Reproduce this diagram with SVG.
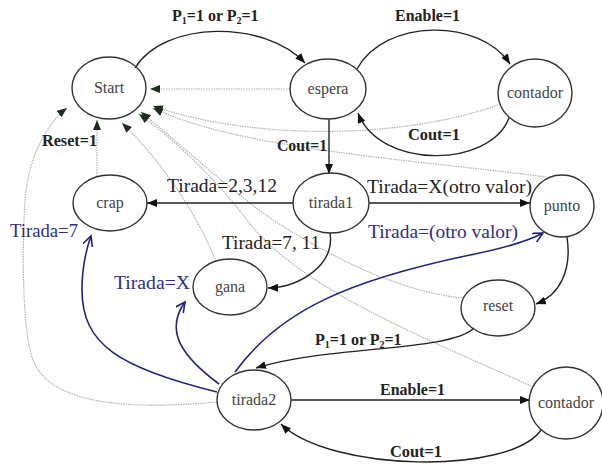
<svg xmlns="http://www.w3.org/2000/svg" width="602" height="465" viewBox="0 0 602 465">
<defs>
<style>
text{font-family:"Liberation Serif","DejaVu Serif",serif}
.n{fill:none;stroke:#333;stroke-width:1.4}
.nt{font-size:16px;fill:#444;text-anchor:middle}
.e{fill:none;stroke:#222;stroke-width:1.4}
.b{fill:none;stroke:#23237a;stroke-width:1.6}
.g{fill:none;stroke:#b0b0b0;stroke-width:1.2;stroke-dasharray:1.5,1}
.lb{font-size:16px;font-weight:bold;fill:#222}
.lr{font-size:18px;fill:#222}
.lbl{font-size:18px;fill:#2e2e85}
</style>
<marker id="a" markerUnits="userSpaceOnUse" markerWidth="11" markerHeight="9" refX="10" refY="4" orient="auto"><path d="M0,0 L10,4 L0,8 z" fill="#111"/></marker>
<marker id="d" markerUnits="userSpaceOnUse" markerWidth="11" markerHeight="9" refX="10" refY="4" orient="auto"><path d="M0,0 L10,4 L0,8 z" fill="#1c2e1c"/></marker>
<marker id="v" markerUnits="userSpaceOnUse" markerWidth="12" markerHeight="12" refX="10" refY="5" orient="auto"><path d="M0,0 L10,5 L0,10" fill="none" stroke="#23237a" stroke-width="1.6"/></marker>
</defs>
<rect width="602" height="465" fill="#fff"/>
<g id="connectors" font-family="Liberation Serif, DejaVu Serif, serif">
<path class="g" d="M290,89 L150,89" marker-end="url(#d)"/>
<path class="g" d="M498,105 C 400,140 250,140 153,106" marker-end="url(#d)"/>
<path class="g" d="M546,177 C 420,160 240,150 153,108" marker-end="url(#d)"/>
<path class="g" d="M97,176 L97,120" marker-end="url(#d)"/>
<path class="g" d="M217,402 C 130,410 50,405 33,360 C 22,330 22,250 25,200 C 28,160 45,125 67,108" marker-end="url(#d)"/>
<path class="g" d="M215,259 C 195,210 160,160 122,123" marker-end="url(#d)"/>
<path class="g" d="M462,298 C 390,290 320,250 273,220 C 230,190 175,140 141,112" marker-end="url(#d)"/>
<path class="g" d="M531,386 C 430,340 300,290 247,220 C 215,178 175,140 139,114" marker-end="url(#d)"/>
<path class="e" d="M135,68 C 165,20 265,20 305,63" marker-end="url(#a)"/>
<path class="e" d="M357,69 C 385,18 480,18 510,64" marker-end="url(#a)"/>
<path class="e" d="M509,118 C 490,168 380,170 358,113" marker-end="url(#a)"/>
<path class="e" d="M329,119 L329,174" marker-end="url(#a)"/>
<path class="e" d="M293,203 L147,203" marker-end="url(#a)"/>
<path class="e" d="M369,203 L530,203" marker-end="url(#a)"/>
<path class="e" d="M330,233 C 335,265 300,287 268,288" marker-end="url(#a)"/>
<path class="e" d="M567,237 C 572,270 560,295 536,304" marker-end="url(#a)"/>
<path class="e" d="M474,328 C 450,352 330,345 256,368" marker-end="url(#a)"/>
<path class="e" d="M291,400 L530,400" marker-end="url(#a)"/>
<path class="e" d="M541,430 C 510,475 330,472 281,424" marker-end="url(#a)"/>
<path class="b" d="M217,392 C 120,368 82,345 82,290 C 82,265 86,250 91,236" marker-end="url(#v)"/>
<path class="b" d="M219,384 C 180,355 165,330 185,302" marker-end="url(#v)"/>
<path class="b" d="M235,372 C 280,310 350,280 470,255 C 510,247 530,240 543,233" marker-end="url(#v)"/>
<text class="lb" x="172" y="21">P<tspan font-size="10" dy="3">1</tspan><tspan dy="-3">=1 or P</tspan><tspan font-size="10" dy="3">2</tspan><tspan dy="-3">=1</tspan></text>
<text class="lb" x="395" y="21" textLength="65" lengthAdjust="spacingAndGlyphs">Enable=1</text>
<text class="lb" x="408" y="140" textLength="52" lengthAdjust="spacingAndGlyphs">Cout=1</text>
<text class="lb" x="277" y="151" textLength="50" lengthAdjust="spacingAndGlyphs">Cout=1</text>
<text class="lb" x="42" y="146" fill="#1c2e1c" textLength="55" lengthAdjust="spacingAndGlyphs">Reset=1</text>
<text class="lr" x="167" y="192" textLength="110" lengthAdjust="spacingAndGlyphs">Tirada=2,3,12</text>
<text class="lr" x="367" y="193" textLength="165" lengthAdjust="spacingAndGlyphs">Tirada=X(otro valor)</text>
<text class="lr" x="222" y="249" textLength="98" lengthAdjust="spacingAndGlyphs">Tirada=7, 11</text>
<text class="lbl" x="10" y="237" textLength="68" lengthAdjust="spacingAndGlyphs">Tirada=7</text>
<text class="lbl" x="114" y="289" textLength="76" lengthAdjust="spacingAndGlyphs">Tirada=X</text>
<text class="lbl" x="368" y="238" textLength="150" lengthAdjust="spacingAndGlyphs">Tirada=(otro valor)</text>
<text class="lb" x="315" y="345">P<tspan font-size="10" dy="3">1</tspan><tspan dy="-3">=1 or P</tspan><tspan font-size="10" dy="3">2</tspan><tspan dy="-3">=1</tspan></text>
<text class="lb" x="380" y="395" textLength="65" lengthAdjust="spacingAndGlyphs">Enable=1</text>
<text class="lb" x="390" y="457" textLength="52" lengthAdjust="spacingAndGlyphs">Cout=1</text>
</g>
<g id="start"><ellipse class="n" cx="109" cy="88" rx="37" ry="31"/><text class="nt" x="109" y="93">Start</text></g>
<g id="espera"><ellipse class="n" cx="328" cy="89" rx="38" ry="30"/><text class="nt" x="328" y="94">espera</text></g>
<g id="contador1"><ellipse class="n" cx="535" cy="93" rx="37" ry="34"/><text class="nt" x="535" y="98">contador</text></g>
<g id="crap"><ellipse class="n" cx="110" cy="203" rx="37" ry="28"/><text class="nt" x="110" y="208">crap</text></g>
<g id="tirada1"><ellipse class="n" cx="331" cy="203" rx="38" ry="30"/><text class="nt" x="331" y="208">tirada1</text></g>
<g id="punto"><ellipse class="n" cx="562" cy="206" rx="32" ry="31"/><text class="nt" x="562" y="211">punto</text></g>
<g id="gana"><ellipse class="n" cx="230" cy="287" rx="37" ry="28"/><text class="nt" x="230" y="292">gana</text></g>
<g id="reset"><ellipse class="n" cx="498" cy="308" rx="37" ry="28"/><text class="nt" x="498" y="311">reset</text></g>
<g id="tirada2"><ellipse class="n" cx="254" cy="400" rx="37" ry="30"/><text class="nt" x="254" y="405">tirada2</text></g>
<g id="contador2"><ellipse class="n" cx="566" cy="403" rx="37" ry="36"/><text class="nt" x="566" y="408">contador</text></g>
</svg>
